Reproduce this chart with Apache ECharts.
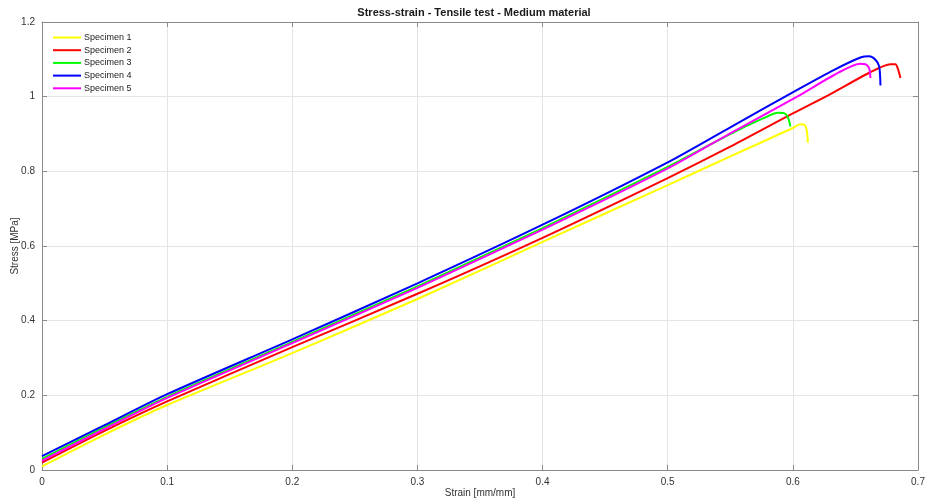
<!DOCTYPE html>
<html>
<head>
<meta charset="utf-8">
<script src="https://cdn.jsdelivr.net/npm/echarts@6/dist/echarts.min.js"></script>
<style>html,body{margin:0;padding:0;background:#fff}#c{width:936px;height:504px}</style>
</head>
<body>
<div id="c"></div>
<script>
const seriesNames = ['Specimen 1','Specimen 2','Specimen 3','Specimen 4','Specimen 5'];
const seriesColors = ['#ffff00','#ff0000','#00ff00','#0000ff','#ff00ff'];
const xTicks = [0,0.1,0.2,0.3,0.4,0.5,0.6,0.7];
const yTicks = [0,0.2,0.4,0.6,0.8,1,1.2];

const strain1 = [0,0.05,0.1,0.2,0.3,0.4,0.5,0.55,0.6,0.606,0.609,0.611,0.612];
const stress1 = [0.010,0.095,0.174,0.313,0.458,0.611,0.763,0.840,0.916,0.926,0.925,0.912,0.877];

const strain2 = [0,0.05,0.1,0.2,0.3,0.4,0.5,0.55,0.6,0.63,0.66,0.678,0.682,0.684,0.686];
const stress2 = [0.020,0.105,0.184,0.329,0.472,0.622,0.782,0.866,0.955,1.007,1.062,1.087,1.087,1.074,1.050];

const strain3 = [0,0.05,0.1,0.2,0.3,0.4,0.5,0.55,0.577,0.588,0.593,0.596,0.598];
const stress3 = [0.030,0.115,0.196,0.343,0.492,0.648,0.812,0.900,0.943,0.957,0.956,0.945,0.920];

const strain4 = [0,0.05,0.1,0.2,0.3,0.4,0.5,0.55,0.606,0.633,0.654,0.661,0.666,0.669,0.670];
const stress4 = [0.037,0.120,0.203,0.350,0.500,0.657,0.824,0.918,1.023,1.072,1.105,1.108,1.099,1.081,1.030];

const strain5 = [0,0.05,0.1,0.2,0.3,0.4,0.5,0.55,0.606,0.633,0.654,0.658,0.661,0.662];
const stress5 = [0.025,0.110,0.193,0.340,0.488,0.644,0.808,0.902,1.005,1.058,1.088,1.087,1.076,1.050];

const strains = [strain1,strain2,strain3,strain4,strain5];
const stresses = [stress1,stress2,stress3,stress4,stress5];

const font = '"Liberation Sans", Arial, Helvetica, sans-serif';
const axisColor = '#8a8a8a';
const labelColor = '#333333';
const fmt = v => String(+v.toFixed(1));

function axisCommon(showLabel){
  return {
    axisLine:{show:true,onZero:false,lineStyle:{color:axisColor,width:1}},
    axisTick:{show:true,inside:true,length:5,lineStyle:{color:axisColor}},
    axisLabel:{show:showLabel,color:labelColor,fontSize:10,fontFamily:font,margin:7,formatter:fmt},
  };
}

const chart = echarts.init(document.getElementById('c'));
chart.setOption({
  animation:false,
  backgroundColor:'#fff',
  title:{text:'Stress-strain - Tensile test - Medium material',left:469,top:2,textAlign:'center',
    textStyle:{fontSize:11,fontWeight:'bold',color:'#1a1a1a',fontFamily:font}},
  grid:{left:42,right:18,top:22,bottom:34,containLabel:false,outerBoundsMode:'none'},
  legend:{
    show:true,left:48,top:28,orient:'vertical',itemWidth:28,itemHeight:2,itemGap:3.7,
    data:seriesNames.map(n=>({name:n,icon:'rect'})),
    textStyle:{fontSize:9,color:'#222',fontFamily:font,padding:[0,0,0,-2]},
    selectedMode:false
  },
  xAxis:[
    Object.assign({type:'value',min:0,max:0.7,interval:0.1,position:'bottom',
      name:'Strain [mm/mm]',nameLocation:'middle',nameGap:18,nameMoveOverlap:false,
      nameTextStyle:{fontSize:10,color:labelColor,fontFamily:font},
      splitLine:{show:true,lineStyle:{color:'#e4e4e4'}}
    }, axisCommon(true)),
    Object.assign({type:'value',min:0,max:0.7,interval:0.1,position:'top',splitLine:{show:false}}, axisCommon(false))
  ],
  yAxis:[
    Object.assign({type:'value',min:0,max:1.2,interval:0.2,position:'left',
      name:'Stress [MPa]',nameLocation:'middle',nameGap:22,nameRotate:90,nameMoveOverlap:false,
      nameTextStyle:{fontSize:10,color:labelColor,fontFamily:font},
      splitLine:{show:true,lineStyle:{color:'#e4e4e4'}}
    }, axisCommon(true)),
    Object.assign({type:'value',min:0,max:1.2,interval:0.2,position:'right',splitLine:{show:false}}, axisCommon(false))
  ],
  series: seriesNames.map((n,i)=>({
    name:n,type:'line',xAxisIndex:0,yAxisIndex:0,
    data:strains[i].map((x,j)=>[x,stresses[i][j]]),
    showSymbol:false,symbol:'none',smooth:0.25,
    lineStyle:{color:seriesColors[i],width:2},
    itemStyle:{color:seriesColors[i]}
  }))
});
</script>
</body>
</html>
